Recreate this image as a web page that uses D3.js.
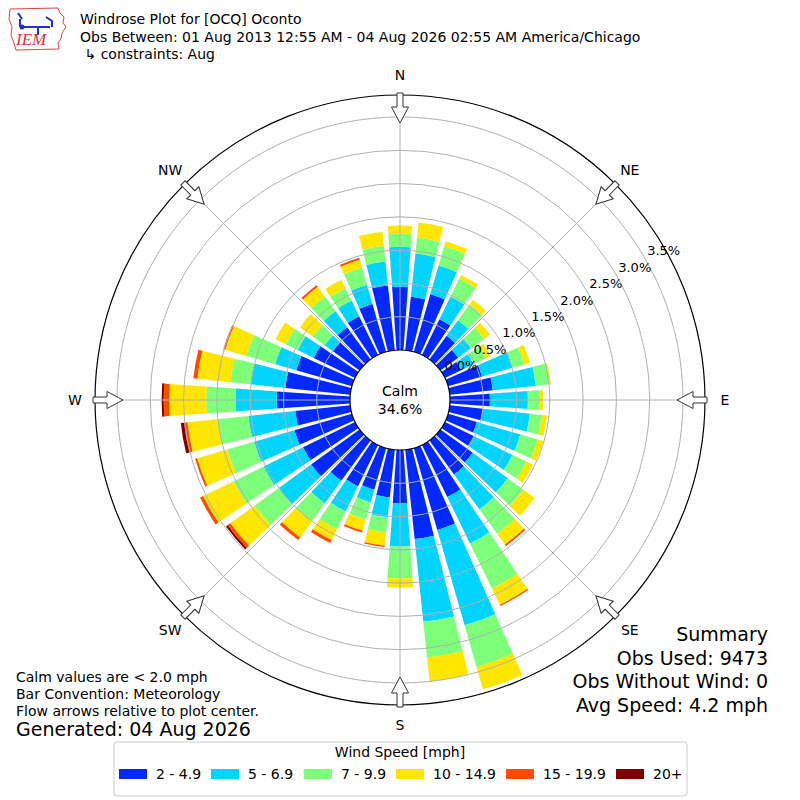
<!DOCTYPE html>
<html>
<head>
<meta charset="utf-8">
<script src="https://cdn.jsdelivr.net/npm/d3@7"></script>
<style>
  body { margin: 0; background: #fff; }
  text { font-family: "DejaVu Sans", sans-serif; fill: #000; }
</style>
</head>
<body>
<svg id="chart" width="800" height="800"></svg>
<script>
// direction bins (degrees, meteorological: wind from)
var directions = [0, 10, 20, 30, 40, 50, 60, 70, 80, 90, 100, 110, 120, 130, 140, 150, 160, 170,
                  180, 190, 200, 210, 220, 230, 240, 250, 260, 270, 280, 290, 300, 310, 320, 330, 340, 350];

// percent of observations per direction, one array per speed bin
var spd2to5 = [0.95, 0.81, 0.90, 0.60, 0.44, 0.33, 0.27, 0.53, 0.65, 0.60, 0.50, 0.45, 0.48, 0.60, 0.63, 0.87, 1.28, 1.35,
               0.80, 0.72, 0.65, 0.69, 0.75, 0.90, 0.87, 0.90, 0.83, 1.10, 0.98, 0.87, 0.69, 0.50, 0.60, 0.65, 0.75, 0.98];
var spd5to7 = [0.60, 0.65, 0.45, 0.38, 0.29, 0.24, 0.21, 0.48, 0.65, 0.57, 0.71, 0.68, 0.65, 0.65, 0.65, 0.78, 1.49, 1.25,
               0.65, 0.30, 0.20, 0.42, 0.42, 0.60, 0.66, 0.63, 0.71, 0.62, 0.53, 0.33, 0.27, 0.15, 0.30, 0.26, 0.30, 0.36];
var spd7to10 = [0.20, 0.24, 0.30, 0.30, 0.29, 0.24, 0.20, 0.18, 0.21, 0.18, 0.18, 0.27, 0.23, 0.29, 0.45, 0.75, 0.65, 0.54,
                0.48, 0.23, 0.27, 0.30, 0.33, 0.45, 0.50, 0.42, 0.47, 0.44, 0.30, 0.45, 0.20, 0.22, 0.27, 0.21, 0.27, 0.24];
var spd10to15 = [0.12, 0.23, 0.08, 0.06, 0.09, 0.11, 0.08, 0.09, 0.02, 0.05, 0.08, 0.09, 0.11, 0.21, 0.20, 0.27, 0.35, 0.36,
                 0.14, 0.20, 0.17, 0.18, 0.30, 0.45, 0.51, 0.47, 0.45, 0.56, 0.50, 0.33, 0.17, 0.24, 0.18, 0.14, 0.12, 0.21];
var spd15to20 = [0, 0, 0, 0, 0, 0, 0, 0, 0, 0, 0, 0, 0, 0, 0.03, 0.02, 0, 0,
                 0, 0.02, 0.03, 0.05, 0.05, 0.05, 0.05, 0.03, 0.05, 0.08, 0.06, 0.03, 0, 0, 0.03, 0, 0.03, 0];
var spd20up = [0, 0, 0, 0, 0, 0, 0, 0, 0, 0, 0, 0, 0, 0, 0, 0, 0, 0,
               0, 0, 0, 0, 0, 0.03, 0, 0, 0.05, 0.03, 0, 0, 0, 0, 0, 0, 0, 0];

var speedLabels = ["2 - 4.9", "5 - 6.9", "7 - 9.9", "10 - 14.9", "15 - 19.9", "20+"];
var speedColors = ["#0028ff", "#00d4ff", "#7dff7a", "#ffe600", "#ff4a00", "#7f0000"];
var speedSeries = [spd2to5, spd5to7, spd7to10, spd10to15, spd15to20, spd20up];

var compassLabels = ["N", "NE", "E", "SE", "S", "SW", "W", "NW"];
var compassAngles = [0, 45, 90, 135, 180, 225, 270, 315];
var rTicks = [0, 0.5, 1.0, 1.5, 2.0, 2.5, 3.0, 3.5];

var calmPct = "34.6%";
var titleLines = ["Windrose Plot for [OCQ] Oconto",
                  "Obs Between: 01 Aug 2013 12:55 AM - 04 Aug 2026 02:55 AM America/Chicago",
                  " \u21b3 constraints: Aug"];
var notes = ["Calm values are < 2.0 mph", "Bar Convention: Meteorology", "Flow arrows relative to plot center."];
var summary = ["Summary", "Obs Used: 9473", "Obs Without Wind: 0", "Avg Speed: 4.2 mph"];

var svg = d3.select("#chart");
var cx = 400, cy = 400;
var calmR = 50, outerR = 305;

var r = d3.scaleLinear().domain([0, 3.5]).range([calmR, 283]);
var rad = function(deg) { return deg * Math.PI / 180; };

// table for the stack
var keys = speedLabels;
var table = directions.map(function(d, i) {
  var row = { dir: d };
  keys.forEach(function(k, j) { row[k] = speedSeries[j][i]; });
  return row;
});
var stacked = d3.stack().keys(keys)(table);

var g = svg.append("g").attr("transform", "translate(" + cx + "," + cy + ")");

var arc = d3.arc()
    .innerRadius(function(d) { return r(d[0]); })
    .outerRadius(function(d) { return r(d[1]); })
    .startAngle(function(d) { return rad(d.data.dir - 4); })
    .endAngle(function(d) { return rad(d.data.dir + 4); });

g.selectAll(".layer")
    .data(stacked)
  .enter().append("g")
    .attr("class", "layer")
    .attr("fill", function(d, i) { return speedColors[i]; })
  .selectAll("path")
    .data(function(d) { return d.filter(function(p) { return p[1] - p[0] > 0; }); })
  .enter().append("path")
    .attr("d", arc);

// grid circles
g.selectAll(".ring")
    .data(rTicks.slice(1))
  .enter().append("circle")
    .attr("class", "ring")
    .attr("r", function(d) { return r(d); })
    .attr("fill", "none")
    .attr("stroke", "#b0b0b0")
    .attr("stroke-width", 1);

// spokes
g.selectAll(".spoke")
    .data(compassAngles)
  .enter().append("line")
    .attr("x1", function(d) { return calmR * Math.sin(rad(d)); })
    .attr("y1", function(d) { return -calmR * Math.cos(rad(d)); })
    .attr("x2", function(d) { return outerR * Math.sin(rad(d)); })
    .attr("y2", function(d) { return -outerR * Math.cos(rad(d)); })
    .attr("stroke", "#b0b0b0")
    .attr("stroke-width", 1);

// outer frame
g.append("circle").attr("r", outerR).attr("fill", "none").attr("stroke", "#000").attr("stroke-width", 1.2);

// calm circle
g.append("circle").attr("r", calmR).attr("fill", "#fff").attr("stroke", "#000").attr("stroke-width", 1.2);
g.append("text").attr("y", -4).attr("text-anchor", "middle").style("font-size", "14px").text("Calm");
g.append("text").attr("y", 14).attr("text-anchor", "middle").style("font-size", "14px").text(calmPct);

// radial tick labels
var labAng = rad(60.5);
g.selectAll(".rlab")
    .data(rTicks)
  .enter().append("text")
    .attr("x", function(d) { return (r(d) + 20) * Math.sin(labAng); })
    .attr("y", function(d) { return -(r(d) + 20) * Math.cos(labAng); })
    .attr("dy", "0.35em")
    .attr("text-anchor", "middle")
    .style("font-size", "13px")
    .text(function(d) { return d.toFixed(1) + "%"; });

// flow arrows pointing toward the center
var arrowPath = "M-3,-307 L3,-307 L3,-293 L8.5,-293 L0,-277 L-8.5,-293 L-3,-293 Z";
g.selectAll(".arrow")
    .data(compassAngles)
  .enter().append("path")
    .attr("d", arrowPath)
    .attr("transform", function(d) { return "rotate(" + d + ")"; })
    .attr("fill", "#fff")
    .attr("stroke", "#333")
    .attr("stroke-width", 1);

// compass labels
g.selectAll(".clab")
    .data(compassLabels)
  .enter().append("text")
    .attr("x", function(d, i) { return 325 * Math.sin(rad(compassAngles[i])); })
    .attr("y", function(d, i) { return -325 * Math.cos(rad(compassAngles[i])); })
    .attr("dy", "0.35em")
    .attr("text-anchor", "middle")
    .style("font-size", "14px")
    .text(function(d) { return d; });

// title
svg.selectAll(".title")
    .data(titleLines)
  .enter().append("text")
    .attr("x", 80)
    .attr("y", function(d, i) { return 24 + i * 17.5; })
    .style("font-size", "14px")
    .style("white-space", "pre")
    .attr("xml:space", "preserve")
    .text(function(d) { return d; });

// logo
var logo = svg.append("g").attr("transform", "translate(8,5)");
logo.append("path")
    .attr("d", "M2,4 L50,3 L52,8 L56,12 L55,18 L58,22 L54,28 L53,34 L50,38 L51,44 L8,45 L6,38 L3,30 L4,22 L1,14 Z")
    .attr("fill", "none").attr("stroke", "#d44").attr("stroke-width", 1);
logo.append("path")
    .attr("d", "M10,8 L14,14 M12,14 L12,22 M14,22 L42,22 M30,22 L30,30 M38,12 L44,16 L44,22")
    .attr("fill", "none").attr("stroke", "#2233cc").attr("stroke-width", 2);
logo.append("circle").attr("cx", 14).attr("cy", 22).attr("r", 2.5).attr("fill", "#2233cc");
logo.append("text").attr("x", 8).attr("y", 40)
    .style("font-family", "'Liberation Serif', serif").style("font-style", "italic")
    .style("font-size", "17px").style("fill", "#d33").text("IEM");

// notes bottom-left
svg.selectAll(".note")
    .data(notes)
  .enter().append("text")
    .attr("x", 16)
    .attr("y", function(d, i) { return 682 + i * 17; })
    .style("font-size", "14px")
    .text(function(d) { return d; });
svg.append("text").attr("x", 16).attr("y", 736).style("font-size", "19px").text("Generated: 04 Aug 2026");

// summary bottom-right
svg.selectAll(".summary")
    .data(summary)
  .enter().append("text")
    .attr("x", 768)
    .attr("y", function(d, i) { return 641 + i * 23.5; })
    .attr("text-anchor", "end")
    .style("font-size", "19px")
    .text(function(d) { return d; });

// legend
var leg = svg.append("g");
leg.append("rect").attr("x", 114).attr("y", 742).attr("width", 573).attr("height", 54)
    .attr("rx", 3).attr("fill", "#fff").attr("stroke", "#cccccc");
leg.append("text").attr("x", 400).attr("y", 757).attr("text-anchor", "middle")
    .style("font-size", "14px").text("Wind Speed [mph]");
var legX = [119, 211, 304, 396, 506, 616];
var item = leg.selectAll(".item")
    .data(speedLabels)
  .enter().append("g")
    .attr("transform", function(d, i) { return "translate(" + legX[i] + ",774)"; });
item.append("rect").attr("y", -5).attr("width", 28).attr("height", 10)
    .attr("fill", function(d, i) { return speedColors[i]; });
item.append("text").attr("x", 37).attr("dy", "0.35em").style("font-size", "14px")
    .text(function(d) { return d; });
</script>
</body>
</html>
